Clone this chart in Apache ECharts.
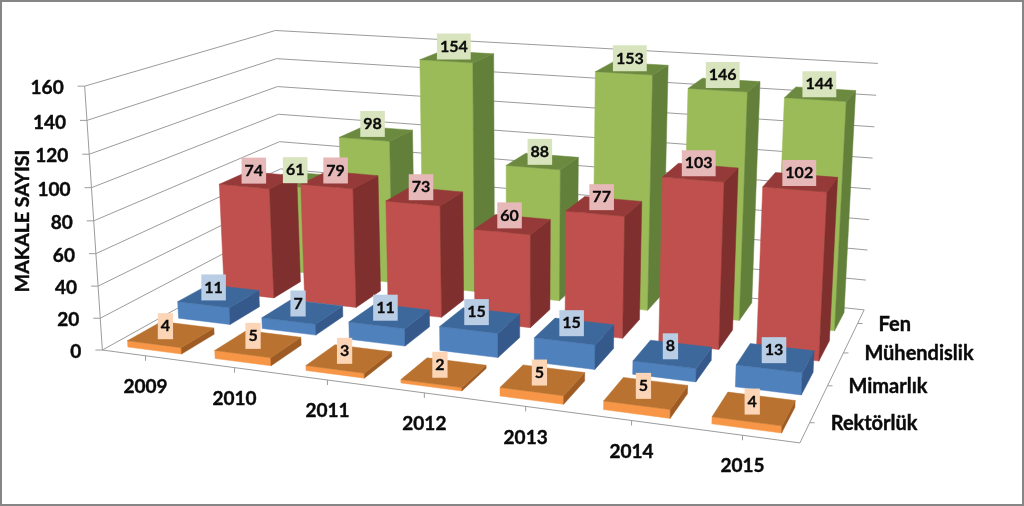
<!DOCTYPE html>
<html>
<head>
<meta charset="utf-8">
<style>
  html, body { margin: 0; padding: 0; background: #fff; }
  #chart { width: 1024px; height: 506px; }
</style>
<script src="https://cdn.jsdelivr.net/npm/echarts@6/dist/echarts.min.js"></script>
</head>
<body>
<div id="chart"></div>
<script>
var years = ['2009', '2010', '2011', '2012', '2013', '2014', '2015'];
var rows = ['Rektörlük', 'Mimarlık', 'Mühendislik', 'Fen'];
var yTicks = [0, 20, 40, 60, 80, 100, 120, 140, 160];
var rektorluk = [4, 5, 3, 2, 5, 5, 4];
var mimarlik = [11, 7, 11, 15, 15, 8, 13];
var muhendislik = [74, 79, 73, 60, 77, 103, 102];
var fen = [61, 98, 154, 88, 153, 146, 144];

var yMax = 160;
var UNIT = 100; // px per category on the hidden grid
var BAR_X = 0.31; // half bar width, in categories
var BAR_Z = 0.33; // half bar depth, in rows
var FONT = 'Lato, "Noto Sans", sans-serif';
var AXIS_COLOR = '#9c9c9c';
var TEXT_COLOR = '#0a0a0a';

// excel 3d look: front, side, top
var orange = { front: '#f79646', side: '#9e5b24', top: '#b9722f', label: '#fbd5b5' };
var blue = { front: '#4f81bd', side: '#34598a', top: '#3d689c', label: '#b9cde5' };
var red = { front: '#c0504d', side: '#7f2f2e', top: '#953a38', label: '#e6b9b8' };
var green = { front: '#9bbb59', side: '#62803a', top: '#6c8a3f', label: '#d7e4bd' };

// where the chart box corners land on the picture: [cat, value share, row] -> [px, py]
var anchors = [
  [[0, 0, 0], [102, 351]],
  [[0, 1, 0], [85, 86]],
  [[0, 1, 4], [275, 31]],
  [[0, 0, 4], [284, 248]],
  [[7, 1, 4], [878, 63]],
  [[7, 0, 4], [864, 311]],
  [[7, 0, 0], [800, 442]]
];

function solve(A, b) {
  var n = b.length;
  for (var i = 0; i < n; i++) {
    var p = i;
    for (var r = i + 1; r < n; r++) {
      if (Math.abs(A[r][i]) > Math.abs(A[p][i])) p = r;
    }
    var t = A[i]; A[i] = A[p]; A[p] = t;
    var s = b[i]; b[i] = b[p]; b[p] = s;
    for (var k = i + 1; k < n; k++) {
      var f = A[k][i] / A[i][i];
      for (var c = i; c < n; c++) A[k][c] -= f * A[i][c];
      b[k] -= f * b[i];
    }
  }
  var x = [];
  for (var m = n - 1; m >= 0; m--) {
    var sum = b[m];
    for (var q = m + 1; q < n; q++) sum -= A[m][q] * x[q];
    x[m] = sum / A[m][m];
  }
  return x;
}

// least squares camera matrix from the anchors
function fitCamera() {
  var rowsA = [], rhs = [];
  anchors.forEach(function (a) {
    var X = a[0][0], Y = a[0][1], Z = a[0][2], u = a[1][0], v = a[1][1];
    rowsA.push([X, Y, Z, 1, 0, 0, 0, 0, -u * X, -u * Y, -u * Z]); rhs.push(u);
    rowsA.push([0, 0, 0, 0, X, Y, Z, 1, -v * X, -v * Y, -v * Z]); rhs.push(v);
  });
  var AtA = [], Atb = [];
  for (var i = 0; i < 11; i++) {
    AtA.push([]);
    Atb.push(0);
    for (var j = 0; j < 11; j++) {
      var s = 0;
      for (var r = 0; r < rowsA.length; r++) s += rowsA[r][i] * rowsA[r][j];
      AtA[i].push(s);
    }
    for (var r2 = 0; r2 < rowsA.length; r2++) Atb[i] += rowsA[r2][i] * rhs[r2];
  }
  return solve(AtA, Atb);
}
var cam = fitCamera();

function project(X, Y, Z) {
  var w = cam[8] * X + cam[9] * Y + cam[10] * Z + 1;
  return [
    (cam[0] * X + cam[1] * Y + cam[2] * Z + cam[3]) / w,
    (cam[4] * X + cam[5] * Y + cam[6] * Z + cam[7]) / w
  ];
}

// hidden grid scales -> chart box units
function world(api, cat, val) {
  var p = api.coord([cat, val]);
  return [p[0] / UNIT, (yMax - p[1]) / yMax];
}

function poly(points, fill, z2) {
  return { type: 'polygon', shape: { points: points }, style: { fill: fill, stroke: fill, lineWidth: 0.5 }, z2: z2 };
}

function barRenderer(colors) {
  return function (params, api) {
    var cat = api.value(0), row = api.value(1), val = api.value(2);
    var c = world(api, cat, val);
    var x0 = c[0] - BAR_X, x1 = c[0] + BAR_X;
    var z0 = row + 0.5 - BAR_Z, z1 = row + 0.5 + BAR_Z;
    var h = c[1];
    var order = (4 - row) * 10 + cat;
    var labelPos = project(c[0], h, z0 + 0.3 * (z1 - z0));
    return {
      type: 'group',
      children: [
        poly([project(x0, 0, z0), project(x1, 0, z0), project(x1, h, z0), project(x0, h, z0)], colors.front, order),
        poly([project(x1, 0, z0), project(x1, 0, z1), project(x1, h, z1), project(x1, h, z0)], colors.side, order),
        poly([project(x0, h, z0), project(x1, h, z0), project(x1, h, z1), project(x0, h, z1)], colors.top, order),
        {
          type: 'text',
          z2: 200,
          style: {
            text: String(val),
            x: labelPos[0] + 1,
            y: labelPos[1] - 12,
            font: 'bold 16px ' + FONT,
            fill: TEXT_COLOR,
            stroke: TEXT_COLOR,
            lineWidth: 0.3,
            align: 'center',
            verticalAlign: 'middle',
            backgroundColor: colors.label,
            padding: [5, 3, 5, 3]
          }
        }
      ]
    };
  };
}

function line(a, b, w) {
  return {
    type: 'line',
    shape: { x1: a[0], y1: a[1], x2: b[0], y2: b[1] },
    style: { stroke: AXIS_COLOR, lineWidth: w || 1 },
    z2: -10
  };
}

function axisText(text, x, y, align, size) {
  return {
    type: 'text',
    z2: 300,
    style: {
      text: text,
      x: x,
      y: y,
      font: 'bold ' + size + 'px ' + FONT,
      fill: TEXT_COLOR,
      stroke: TEXT_COLOR,
      lineWidth: 0.4,
      align: align,
      verticalAlign: 'middle'
    }
  };
}

// walls, floor edges and every tick label
function renderFrame(params, api) {
  var out = [];
  var nCat = years.length, nRow = rows.length;
  yTicks.forEach(function (t) {
    var h = world(api, 0, t)[1];
    var a = project(0, h, 0), b = project(0, h, nRow), c = project(nCat, h, nRow);
    out.push(line(a, b), line(b, c));
    out.push(line(a, [a[0] - 7, a[1]]));
    out.push(axisText(String(t), a[0] - 21, a[1] + 2, 'right', 19));
  });
  var o = project(0, 0, 0), top = project(0, 1, 0), fr = project(nCat, 0, 0), br = project(nCat, 0, nRow);
  out.push(line(o, top), line(o, fr), line(fr, br));
  years.forEach(function (y, i) {
    var p = project(world(api, i, 0)[0], 0, 0);
    out.push(line(p, [p[0], p[1] + 5]));
    out.push(axisText(y, p[0], p[1] + 31, 'center', 19));
  });
  rows.forEach(function (r, i) {
    var p = project(nCat, 0, i + 0.5);
    out.push(line(p, [p[0] + 5, p[1]]));
    out.push(axisText(r, p[0] + 21, p[1] + 1, 'left', 20));
  });
  return { type: 'group', children: out };
}

function barSeries(name, values, row, colors) {
  return {
    name: name,
    type: 'custom',
    coordinateSystem: 'cartesian2d',
    renderItem: barRenderer(colors),
    encode: { x: 0, y: 2 },
    data: values.map(function (v, i) { return [i, row, v]; }),
    silent: true,
    animation: false
  };
}

var chart = echarts.init(document.getElementById('chart'), null, { renderer: 'canvas' });
chart.setOption({
  backgroundColor: '#fff',
  animation: false,
  grid: { left: 0, top: 0, width: UNIT * years.length, height: yMax },
  xAxis: { type: 'category', data: years, show: false },
  yAxis: { type: 'value', min: 0, max: yMax, interval: 20, show: false },
  graphic: [
    {
      type: 'rect',
      shape: { x: 1, y: 1, width: 1022, height: 504 },
      style: { fill: 'none', stroke: '#868686', lineWidth: 2 },
      silent: true
    },
    {
      type: 'text',
      x: 23,
      y: 221,
      rotation: Math.PI / 2,
      style: {
        text: 'MAKALE SAYISI',
        font: 'bold 19.5px ' + FONT,
        fill: TEXT_COLOR,
        stroke: TEXT_COLOR,
        lineWidth: 0.4,
        align: 'center',
        verticalAlign: 'middle'
      },
      silent: true
    }
  ],
  series: [
    {
      type: 'custom',
      coordinateSystem: 'cartesian2d',
      renderItem: renderFrame,
      encode: { x: 0, y: 1 },
      data: [[0, 0]],
      silent: true,
      animation: false
    },
    barSeries('Fen', fen, 3, green),
    barSeries('Mühendislik', muhendislik, 2, red),
    barSeries('Mimarlık', mimarlik, 1, blue),
    barSeries('Rektörlük', rektorluk, 0, orange)
  ]
});
</script>
</body>
</html>
